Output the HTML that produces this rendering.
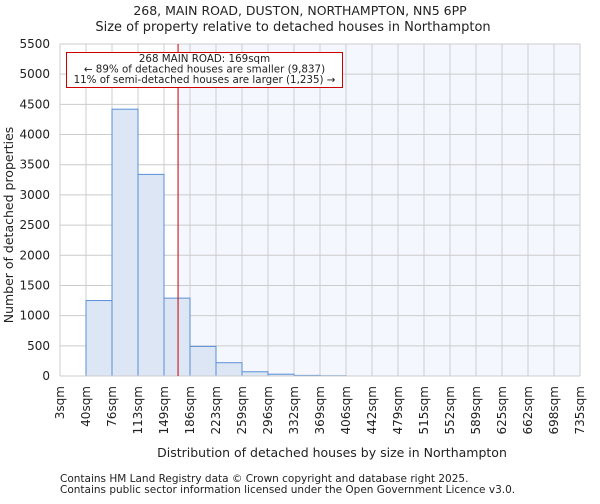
<!DOCTYPE html>
<html><head><meta charset="utf-8"><style>
body{margin:0;background:#fff;font-family:"DejaVu Sans","Liberation Sans",sans-serif;}
svg text{font-family:"DejaVu Sans","Liberation Sans",sans-serif;fill:#222;}
</style></head><body>
<svg id="c" width="600" height="500" viewBox="0 0 600 500">
<text x="300" y="15" text-anchor="middle" font-size="12.5">268, MAIN ROAD, DUSTON, NORTHAMPTON, NN5 6PP</text>
<text x="293" y="31" text-anchor="middle" font-size="13">Size of property relative to detached houses in Northampton</text>
<g id="plot"></g>
<text x="332" y="457" text-anchor="middle" font-size="12.5">Distribution of detached houses by size in Northampton</text>
<text transform="translate(13,225) rotate(-90)" text-anchor="middle" font-size="12.5">Number of detached properties</text>
<text x="60" y="482" font-size="10.5">Contains HM Land Registry data © Crown copyright and database right 2025.</text>
<text x="60" y="493" font-size="10.5">Contains public sector information licensed under the Open Government Licence v3.0.</text>
</svg>
<script>
const binLabels=["3sqm","40sqm","76sqm","113sqm","149sqm","186sqm","223sqm","259sqm","296sqm","332sqm","369sqm","406sqm","442sqm","479sqm","515sqm","552sqm","589sqm","625sqm","662sqm","698sqm","735sqm"];
const binEdges=[3,40,76,113,149,186,223,259,296,332,369,406,442,479,515,552,589,625,662,698,735];
const counts=[0,1250,4420,3340,1290,490,220,70,30,10,5,0,0,0,0,0,0,0,0,0];
const yTicks=[0,500,1000,1500,2000,2500,3000,3500,4000,4500,5000,5500];
const propertySize=169;
const L=60,R=580,T=44,B=376,ymax=5500;
const ns="http://www.w3.org/2000/svg";
const g=document.getElementById('plot');
const n=binEdges.length-1;
function xIdx(i){return L+(R-L)*i/n;}
function xVal(v){let i=0;while(i<n-1&&v>binEdges[i+1])i++;return xIdx(i)+(xIdx(i+1)-xIdx(i))*(v-binEdges[i])/(binEdges[i+1]-binEdges[i]);}
function y(v){return B-(B-T)*v/ymax;}
function el(t,a){const e=document.createElementNS(ns,t);for(const k in a)e.setAttribute(k,a[k]);g.appendChild(e);return e;}
const px=xVal(propertySize);
let e=el('rect',{x:px,y:T,width:R-px,height:B-T,fill:'#f4f7fe'});


yTicks.forEach(t=>{let l=el('line',{x1:L,x2:R,y1:y(t),y2:y(t),stroke:'#cccccc','stroke-width':1});


let tx=el('text',{x:L-10,y:y(t)+4,'text-anchor':'end','font-size':12});tx.textContent=t;

});
binLabels.forEach((s,i)=>{let l=el('line',{x1:xIdx(i),x2:xIdx(i),y1:T,y2:B,stroke:'#cccccc','stroke-width':1});


let tx=el('text',{transform:`translate(${xIdx(i)+4},${B+10}) rotate(-90)`,'text-anchor':'end','font-size':12});tx.textContent=s;

});
counts.forEach((c,i)=>{if(c<=0)return;let r=el('rect',{x:xIdx(i),y:y(c),width:xIdx(i+1)-xIdx(i),height:B-y(c),fill:'#dce6f5',stroke:'#5a8fd6','stroke-width':1});

});
let ax=el('line',{x1:L,x2:R,y1:B,y2:B,stroke:'#cccccc'});


let rl=el('line',{x1:px,x2:px,y1:T,y2:B,stroke:'#cc0000','stroke-width':1});


let box=el('rect',{x:66.5,y:52.5,width:276,height:35,fill:'#fff',stroke:'#cc0000','stroke-width':1});


["268 MAIN ROAD: 169sqm","← 89% of detached houses are smaller (9,837)","11% of semi-detached houses are larger (1,235) →"].forEach((s,i)=>{let t=el('text',{x:204.5,y:62+i*10.5,'text-anchor':'middle','font-size':10.3});t.textContent=s;

});
</script>
</body></html>
